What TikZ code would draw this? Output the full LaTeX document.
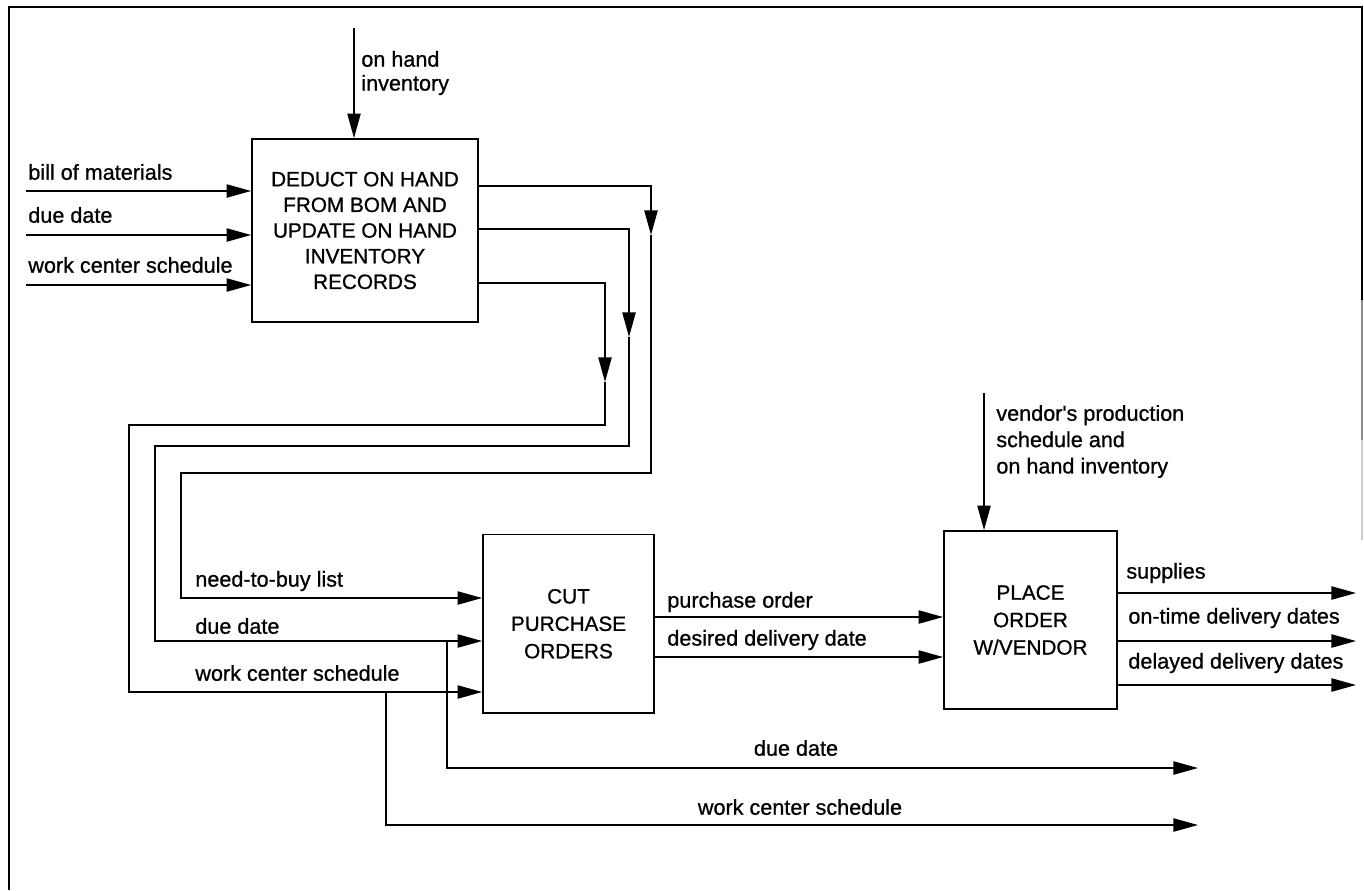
\documentclass[tikz,border=0pt]{standalone}
\usepackage{fontspec}
\setmainfont{Liberation Sans}
\newfontfamily\heavy[FakeBold=0.8]{Liberation Sans}
\usetikzlibrary{arrows.meta}
\begin{document}
\begin{tikzpicture}[x=0.02cm,y=-0.02cm,
  ln/.style={line width=1pt,draw=black},
  flow/.style={ln,-{Triangle[length=14pt,width=7.5pt]}},
  procbox/.style={ln,fill=white,inner sep=0pt,align=center,font=\heavy\fontsize{11.8pt}{14.6pt}\selectfont},
  lbl/.style={inner sep=0pt,anchor=west,font=\heavy\fontsize{12.3pt}{14pt}\selectfont},
  clbl/.style={inner sep=0pt,anchor=center,font=\heavy\fontsize{12.3pt}{14pt}\selectfont},
  frame/.style={line width=1.1pt}]
\useasboundingbox (0,0) rectangle (1364,890);
\fill[white] (0,0) rectangle (1364,890);
% frame
\draw[frame] (9,890) -- (9,7) -- (1362,7) -- (1362,300);
\draw[frame,draw=black!45] (1362,300) -- (1362,440);
\draw[frame,draw=black!20] (1362,440) -- (1362,540);
% boxes
\node[procbox,minimum width=4.52cm,minimum height=3.66cm] (b1) at (365,230.5)
  {DEDUCT ON HAND\\FROM BOM AND\\UPDATE ON HAND\\INVENTORY\\RECORDS};
\node[procbox,minimum width=3.42cm,minimum height=3.57cm,font=\heavy\fontsize{11.8pt}{15.6pt}\selectfont] (b2) at (568.5,623.75)
  {CUT\\PURCHASE\\ORDERS};
\node[procbox,minimum width=3.46cm,minimum height=3.56cm,font=\heavy\fontsize{11.8pt}{15.6pt}\selectfont] (b3) at (1030.5,620)
  {PLACE\\ORDER\\W/VENDOR};
% row coordinates
\coordinate (y186) at (0,186);
\coordinate (y229) at (0,229);
\coordinate (y283) at (0,283);
\coordinate (y598) at (0,598);
\coordinate (y641) at (0,641);
\coordinate (y692) at (0,692);
\coordinate (y617) at (0,617);
\coordinate (y657) at (0,657);
% on hand inventory input
\coordinate (oh) at (354,28);
\draw[flow] (oh) -- (oh |- b1.north);
\node[lbl,align=left,font=\heavy\fontsize{12.3pt}{13.6pt}\selectfont] (ohl) at (361,73) {on hand\\inventory};
% left inputs
\coordinate (i1) at (26,191);
\coordinate (i2) at (26,235);
\coordinate (i3) at (26,285);
\draw[flow] (i1) -- (i1 -| b1.west);
\draw[flow] (i2) -- (i2 -| b1.west);
\draw[flow] (i3) -- (i3 -| b1.west);
\node[lbl] (l1) at (28,172) {bill of materials};
\node[lbl] (l2) at (28,215) {due date};
\node[lbl] (l3) at (28,265) {work center schedule};
% box1 outputs routed to box2
\coordinate (t1) at (651,235);
\coordinate (t2) at (629,337);
\coordinate (t3) at (605,382);
\coordinate (c1) at (181,473);
\coordinate (c2) at (155,446);
\coordinate (c3) at (129,425);
\draw[flow] (b1.east |- y186) -| (t1);
\draw[flow] (t1) -- (c1 -| t1) -- (c1) |- (b2.west |- y598);
\draw[flow] (b1.east |- y229) -| (t2);
\draw[flow] (t2) -- (c2 -| t2) -- (c2) |- (b2.west |- y641);
\draw[flow] (b1.east |- y283) -| (t3);
\draw[flow] (t3) -- (c3 -| t3) -- (c3) |- (b2.west |- y692);
\node[lbl] (l4) at (195,581) {need-to-buy list};
\node[lbl] (l5) at (195,626) {due date};
\node[lbl] (l6) at (195,673) {work center schedule};
% branches to the right
\coordinate (d1) at (447,768);
\coordinate (dend) at (1198,768);
\coordinate (w1) at (386,825);
\coordinate (wend) at (1198,825);
\draw[flow] (d1 |- y641) -- (d1) -- (dend);
\draw[flow] (w1 |- y692) -- (w1) -- (wend);
\node[clbl] (l7) at (796,748) {due date};
\node[clbl] (l8) at (800,807) {work center schedule};
% box2 to box3
\draw[flow] (b2.east |- y617) -- (b3.west |- y617);
\draw[flow] (b2.east |- y657) -- (b3.west |- y657);
\node[lbl] (l9) at (667,602) {purchase order};
\node[lbl] (l10) at (667,640) {desired delivery date};
% vendor input
\coordinate (vd) at (984,393);
\draw[flow] (vd) -- (vd |- b3.north);
\node[lbl,align=left,font=\heavy\fontsize{12.3pt}{15pt}\selectfont] (vdl) at (996,441.5)
  {vendor's production\\schedule and\\on hand inventory};
% box3 outputs
\coordinate (e1) at (1356,593);
\coordinate (e2) at (1356,641);
\coordinate (e3) at (1356,685);
\draw[flow] (b3.east |- e1) -- (e1);
\draw[flow] (b3.east |- e2) -- (e2);
\draw[flow] (b3.east |- e3) -- (e3);
\node[lbl] (l11) at (1126,573) {supplies};
\node[lbl] (l12) at (1128,618) {on-time delivery dates};
\node[lbl] (l13) at (1128,663) {delayed delivery dates};
\end{tikzpicture}
\end{document}
